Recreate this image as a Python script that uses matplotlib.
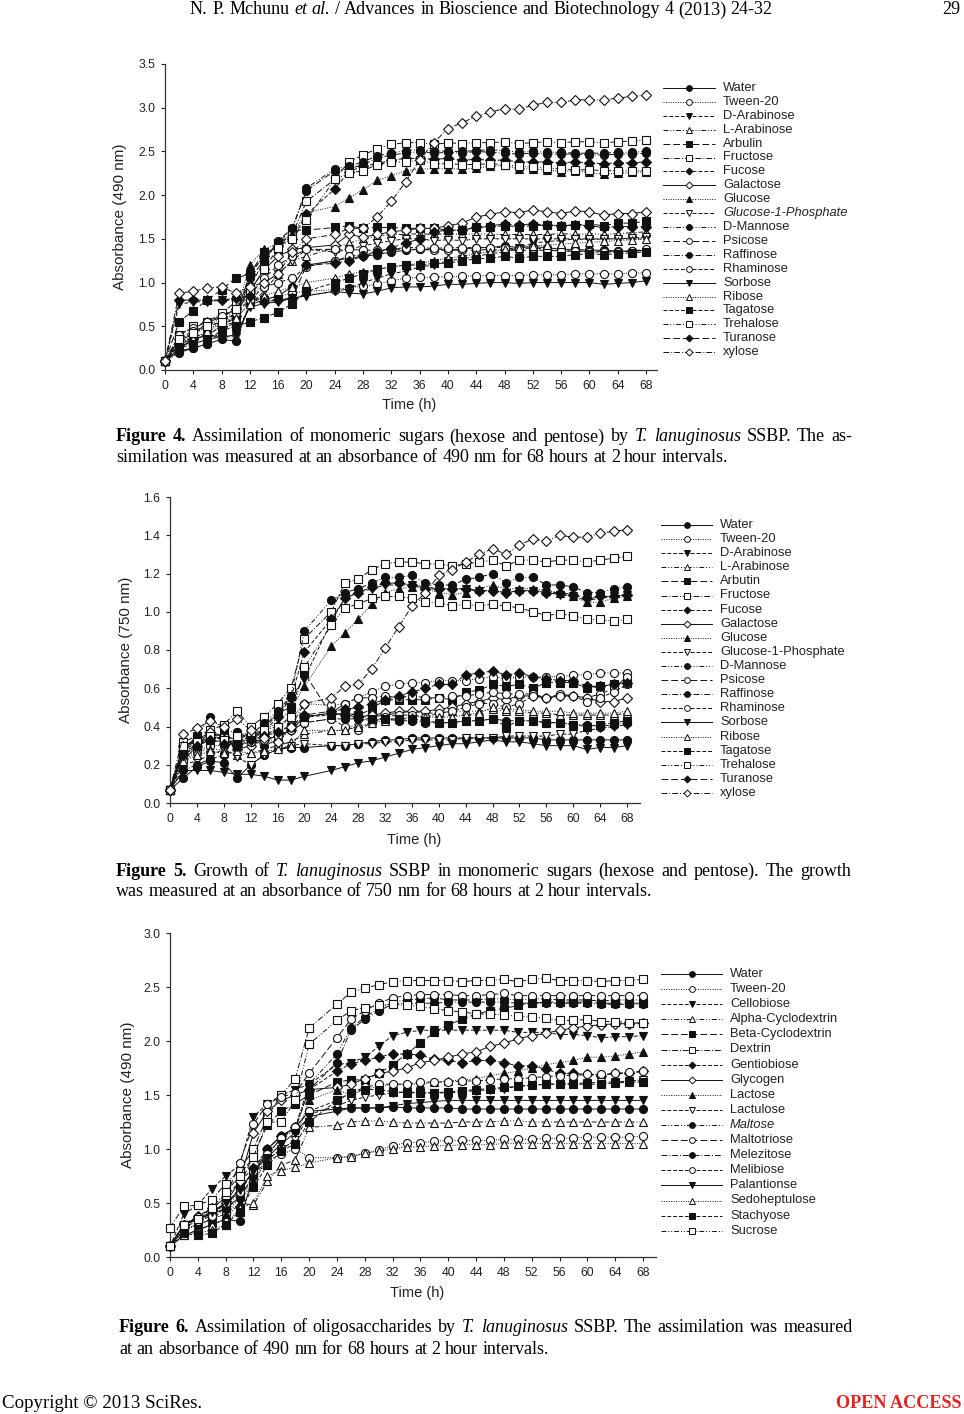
import numpy as np
import matplotlib.pyplot as plt
from matplotlib.lines import Line2D
from matplotlib.ticker import FormatStrFormatter

W, H = 964, 1414
SERIF = 'Liberation Serif'
plt.rcParams['font.family'] = ['Liberation Sans', 'DejaVu Sans']

# sampling times (h); no reading at 22 h
hours = [0, 2, 4, 6, 8, 10, 12, 14, 16, 18, 20,
         24, 26, 28, 30, 32, 34, 36, 38, 40, 42, 44, 46, 48, 50, 52, 54, 56, 58, 60, 62, 64, 66, 68]

# Figure 4 - monomeric sugars, absorbance 490 nm
fig4_labels = ['Water', 'Tween-20', 'D-Arabinose', 'L-Arabinose', 'Arbulin', 'Fructose', 'Fucose',
               'Galactose', 'Glucose', 'Glucose-1-Phosphate', 'D-Mannose', 'Psicose', 'Raffinose',
               'Rhaminose', 'Sorbose', 'Ribose', 'Tagatose', 'Trehalose', 'Turanose', 'xylose']
fig4_abs = [
    [0.10, 0.22, 0.25, 0.30, 0.35, 0.33, 0.75, 0.80, 0.85, 0.95, 1.20,
     1.25, 1.28, 1.30, 1.32, 1.35, 1.37, 1.38, 1.38, 1.38, 1.38, 1.40, 1.40, 1.42, 1.40, 1.41, 1.40, 1.38, 1.38, 1.37, 1.37, 1.36, 1.36, 1.37],
    [0.10, 0.30, 0.40, 0.50, 0.60, 0.70, 0.80, 0.82, 0.84, 0.88, 0.90,
     0.92, 0.94, 0.96, 0.98, 1.02, 1.05, 1.06, 1.06, 1.07, 1.07, 1.08, 1.08, 1.08, 1.08, 1.09, 1.09, 1.09, 1.10, 1.10, 1.10, 1.10, 1.11, 1.11],
    [0.10, 0.75, 0.78, 0.78, 0.80, 0.80, 0.80, 0.80, 0.80, 0.82, 0.85,
     0.90, 0.93, 1.00, 1.05, 1.10, 1.13, 1.18, 1.20, 1.25, 1.27, 1.30, 1.33, 1.35, 1.40, 1.45, 1.47, 1.48, 1.50, 1.49, 1.50, 1.50, 1.50, 1.50],
    [0.10, 0.30, 0.35, 0.40, 0.50, 0.55, 0.80, 1.00, 1.10, 1.25, 1.30,
     1.40, 1.45, 1.50, 1.53, 1.55, 1.55, 1.56, 1.55, 1.56, 1.55, 1.56, 1.55, 1.55, 1.55, 1.55, 1.55, 1.56, 1.55, 1.56, 1.55, 1.56, 1.57, 1.58],
    [0.10, 0.55, 0.68, 0.80, 0.92, 1.05, 1.10, 1.35, 1.38, 1.60, 1.60,
     1.63, 1.65, 1.62, 1.63, 1.63, 1.62, 1.62, 1.62, 1.60, 1.60, 1.63, 1.64, 1.65, 1.64, 1.65, 1.66, 1.65, 1.66, 1.67, 1.65, 1.68, 1.68, 1.70],
    [0.10, 0.40, 0.50, 0.55, 0.65, 0.78, 0.95, 1.25, 1.45, 1.55, 1.93,
     2.18, 2.38, 2.46, 2.53, 2.58, 2.60, 2.60, 2.58, 2.60, 2.59, 2.60, 2.60, 2.61, 2.59, 2.60, 2.61, 2.60, 2.61, 2.61, 2.60, 2.61, 2.62, 2.63],
    [0.10, 0.30, 0.35, 0.40, 0.50, 0.62, 1.10, 1.30, 1.42, 1.50, 1.78,
     2.07, 2.27, 2.33, 2.36, 2.40, 2.42, 2.42, 2.41, 2.42, 2.40, 2.41, 2.40, 2.40, 2.38, 2.38, 2.38, 2.37, 2.38, 2.37, 2.36, 2.37, 2.37, 2.38],
    [0.10, 0.35, 0.40, 0.55, 0.60, 0.70, 0.90, 1.15, 1.30, 1.38, 1.40,
     1.43, 1.55, 1.52, 1.55, 1.58, 1.60, 1.62, 1.62, 1.65, 1.68, 1.75, 1.78, 1.81, 1.80, 1.83, 1.81, 1.79, 1.82, 1.81, 1.77, 1.79, 1.79, 1.81],
    [0.10, 0.30, 0.38, 0.42, 0.55, 0.65, 1.20, 1.38, 1.45, 1.55, 1.80,
     1.87, 1.97, 2.06, 2.17, 2.22, 2.28, 2.30, 2.30, 2.30, 2.30, 2.31, 2.33, 2.34, 2.30, 2.30, 2.29, 2.27, 2.28, 2.26, 2.24, 2.25, 2.26, 2.27],
    [0.10, 0.30, 0.30, 0.35, 0.38, 0.38, 0.75, 0.90, 1.10, 1.25, 1.38,
     1.35, 1.38, 1.42, 1.45, 1.48, 1.50, 1.50, 1.48, 1.49, 1.48, 1.50, 1.50, 1.50, 1.50, 1.50, 1.50, 1.50, 1.50, 1.50, 1.50, 1.50, 1.51, 1.52],
    [0.10, 0.25, 0.35, 0.40, 0.50, 0.60, 1.10, 1.30, 1.45, 1.62, 2.08,
     2.30, 2.33, 2.38, 2.45, 2.48, 2.51, 2.52, 2.51, 2.50, 2.50, 2.51, 2.52, 2.51, 2.49, 2.50, 2.49, 2.49, 2.48, 2.48, 2.48, 2.49, 2.49, 2.50],
    [0.10, 0.40, 0.48, 0.55, 0.62, 0.70, 0.85, 1.05, 1.20, 1.30, 1.38,
     1.38, 1.38, 1.37, 1.37, 1.38, 1.38, 1.38, 1.37, 1.37, 1.37, 1.37, 1.38, 1.37, 1.37, 1.37, 1.37, 1.36, 1.36, 1.36, 1.36, 1.36, 1.36, 1.37],
    [0.10, 0.20, 0.25, 0.30, 0.45, 0.55, 1.05, 1.25, 1.48, 1.62, 2.05,
     2.28, 2.30, 2.35, 2.42, 2.46, 2.48, 2.50, 2.48, 2.49, 2.48, 2.50, 2.49, 2.48, 2.47, 2.48, 2.47, 2.47, 2.47, 2.46, 2.46, 2.47, 2.47, 2.48],
    [0.10, 0.35, 0.45, 0.50, 0.55, 0.65, 0.80, 0.95, 1.00, 1.05, 1.18,
     1.25, 1.30, 1.32, 1.35, 1.38, 1.40, 1.40, 1.39, 1.40, 1.40, 1.40, 1.40, 1.40, 1.38, 1.40, 1.38, 1.36, 1.36, 1.35, 1.35, 1.35, 1.36, 1.38],
    [0.10, 0.25, 0.35, 0.40, 0.38, 0.40, 0.72, 0.76, 0.78, 0.82, 0.85,
     0.90, 0.88, 0.87, 0.90, 0.94, 0.95, 0.95, 0.96, 0.98, 0.98, 0.99, 1.00, 1.00, 0.99, 1.00, 1.00, 1.00, 1.00, 1.00, 0.98, 0.99, 1.00, 1.02],
    [0.10, 0.30, 0.35, 0.45, 0.55, 0.60, 0.75, 0.85, 0.90, 0.95, 1.00,
     1.05, 1.10, 1.12, 1.15, 1.18, 1.20, 1.22, 1.25, 1.28, 1.30, 1.33, 1.35, 1.38, 1.40, 1.42, 1.43, 1.44, 1.45, 1.46, 1.47, 1.48, 1.49, 1.50],
    [0.10, 0.25, 0.30, 0.35, 0.45, 0.50, 0.55, 0.60, 0.66, 0.76, 0.90,
     1.00, 1.05, 1.10, 1.15, 1.18, 1.20, 1.20, 1.22, 1.22, 1.25, 1.27, 1.28, 1.30, 1.28, 1.30, 1.30, 1.30, 1.32, 1.33, 1.32, 1.33, 1.34, 1.35],
    [0.10, 0.35, 0.42, 0.50, 0.55, 0.70, 0.90, 1.15, 1.40, 1.50, 1.72,
     2.18, 2.25, 2.28, 2.35, 2.38, 2.38, 2.40, 2.36, 2.36, 2.35, 2.35, 2.36, 2.35, 2.33, 2.32, 2.31, 2.30, 2.29, 2.29, 2.28, 2.28, 2.28, 2.28],
    [0.10, 0.80, 0.80, 0.80, 0.80, 0.82, 0.85, 0.78, 0.80, 0.82, 1.20,
     1.22, 1.25, 1.30, 1.35, 1.40, 1.45, 1.50, 1.58, 1.60, 1.60, 1.63, 1.65, 1.67, 1.66, 1.67, 1.66, 1.65, 1.66, 1.65, 1.63, 1.64, 1.64, 1.64],
    [0.10, 0.88, 0.90, 0.94, 0.95, 0.88, 0.95, 1.00, 1.10, 1.35, 1.50,
     1.55, 1.62, 1.62, 1.75, 1.93, 2.15, 2.40, 2.60, 2.76, 2.83, 2.90, 2.95, 2.99, 2.98, 3.03, 3.06, 3.06, 3.09, 3.09, 3.09, 3.11, 3.13, 3.14],
]

# Figure 5 - growth, absorbance 750 nm
fig5_labels = ['Water', 'Tween-20', 'D-Arabinose', 'L-Arabinose', 'Arbutin', 'Fructose', 'Fucose',
               'Galactose', 'Glucose', 'Glucose-1-Phosphate', 'D-Mannose', 'Psicose', 'Raffinose',
               'Rhaminose', 'Sorbose', 'Ribose', 'Tagatose', 'Trehalose', 'Turanose', 'xylose']
fig5_abs = [
    [0.07, 0.13, 0.19, 0.22, 0.21, 0.13, 0.20, 0.25, 0.28, 0.29, 0.29,
     0.30, 0.30, 0.31, 0.32, 0.33, 0.33, 0.34, 0.34, 0.34, 0.34, 0.34, 0.34, 0.34, 0.34, 0.34, 0.34, 0.33, 0.33, 0.33, 0.33, 0.33, 0.33, 0.33],
    [0.07, 0.22, 0.27, 0.30, 0.30, 0.32, 0.33, 0.34, 0.40, 0.44, 0.52,
     0.51, 0.52, 0.55, 0.58, 0.61, 0.62, 0.63, 0.63, 0.64, 0.64, 0.64, 0.65, 0.66, 0.65, 0.66, 0.66, 0.66, 0.66, 0.67, 0.67, 0.68, 0.68, 0.68],
    [0.07, 0.25, 0.30, 0.33, 0.35, 0.33, 0.36, 0.38, 0.47, 0.55, 0.65,
     0.95, 1.07, 1.10, 1.12, 1.14, 1.14, 1.14, 1.13, 1.12, 1.12, 1.12, 1.11, 1.11, 1.10, 1.11, 1.11, 1.10, 1.09, 1.08, 1.06, 1.07, 1.08, 1.09],
    [0.07, 0.25, 0.27, 0.28, 0.28, 0.25, 0.26, 0.28, 0.30, 0.32, 0.36,
     0.38, 0.38, 0.42, 0.45, 0.46, 0.47, 0.48, 0.47, 0.47, 0.48, 0.48, 0.48, 0.49, 0.48, 0.48, 0.47, 0.47, 0.46, 0.46, 0.46, 0.46, 0.46, 0.47],
    [0.07, 0.28, 0.33, 0.36, 0.35, 0.33, 0.37, 0.40, 0.47, 0.50, 0.68,
     0.46, 0.47, 0.46, 0.49, 0.54, 0.54, 0.54, 0.54, 0.55, 0.54, 0.58, 0.59, 0.62, 0.61, 0.62, 0.60, 0.63, 0.63, 0.63, 0.60, 0.61, 0.62, 0.63],
    [0.07, 0.32, 0.35, 0.38, 0.41, 0.48, 0.40, 0.45, 0.52, 0.60, 0.86,
     1.00, 1.15, 1.17, 1.22, 1.25, 1.26, 1.26, 1.25, 1.25, 1.24, 1.25, 1.26, 1.27, 1.24, 1.27, 1.27, 1.26, 1.27, 1.27, 1.26, 1.27, 1.28, 1.29],
    [0.07, 0.27, 0.32, 0.36, 0.34, 0.31, 0.35, 0.37, 0.45, 0.55, 0.79,
     0.96, 1.07, 1.10, 1.13, 1.15, 1.15, 1.14, 1.12, 1.12, 1.12, 1.12, 1.11, 1.11, 1.10, 1.11, 1.11, 1.10, 1.10, 1.09, 1.07, 1.08, 1.08, 1.09],
    [0.07, 0.30, 0.33, 0.37, 0.35, 0.28, 0.30, 0.33, 0.35, 0.38, 0.45,
     0.47, 0.46, 0.45, 0.46, 0.47, 0.48, 0.48, 0.48, 0.49, 0.50, 0.52, 0.53, 0.55, 0.54, 0.56, 0.56, 0.55, 0.56, 0.56, 0.55, 0.53, 0.53, 0.55],
    [0.07, 0.25, 0.30, 0.34, 0.34, 0.30, 0.35, 0.38, 0.42, 0.49, 0.61,
     0.82, 0.89, 0.96, 1.04, 1.10, 1.12, 1.13, 1.12, 1.10, 1.09, 1.10, 1.12, 1.14, 1.12, 1.12, 1.12, 1.11, 1.10, 1.08, 1.05, 1.05, 1.07, 1.08],
    [0.07, 0.20, 0.22, 0.25, 0.28, 0.24, 0.20, 0.25, 0.28, 0.30, 0.31,
     0.30, 0.30, 0.31, 0.31, 0.32, 0.32, 0.33, 0.33, 0.33, 0.33, 0.34, 0.34, 0.34, 0.35, 0.35, 0.35, 0.35, 0.36, 0.36, 0.38, 0.39, 0.40, 0.41],
    [0.07, 0.28, 0.35, 0.45, 0.38, 0.37, 0.35, 0.42, 0.48, 0.56, 0.90,
     1.06, 1.10, 1.12, 1.15, 1.18, 1.18, 1.19, 1.15, 1.14, 1.14, 1.17, 1.18, 1.20, 1.15, 1.18, 1.18, 1.14, 1.14, 1.13, 1.10, 1.10, 1.12, 1.13],
    [0.07, 0.22, 0.30, 0.35, 0.33, 0.30, 0.32, 0.33, 0.35, 0.38, 0.45,
     0.47, 0.52, 0.55, 0.55, 0.56, 0.55, 0.56, 0.55, 0.55, 0.56, 0.56, 0.57, 0.58, 0.57, 0.57, 0.57, 0.55, 0.57, 0.56, 0.55, 0.57, 0.60, 0.66],
    [0.07, 0.17, 0.20, 0.23, 0.25, 0.37, 0.33, 0.30, 0.33, 0.38, 0.42,
     0.44, 0.44, 0.44, 0.43, 0.44, 0.43, 0.43, 0.42, 0.42, 0.42, 0.43, 0.43, 0.44, 0.43, 0.43, 0.43, 0.42, 0.42, 0.41, 0.41, 0.40, 0.41, 0.42],
    [0.07, 0.30, 0.32, 0.35, 0.33, 0.30, 0.32, 0.33, 0.35, 0.38, 0.42,
     0.44, 0.40, 0.38, 0.42, 0.45, 0.46, 0.46, 0.45, 0.47, 0.48, 0.50, 0.52, 0.52, 0.50, 0.52, 0.56, 0.55, 0.56, 0.56, 0.53, 0.55, 0.58, 0.62],
    [0.07, 0.17, 0.17, 0.17, 0.16, 0.15, 0.15, 0.14, 0.12, 0.12, 0.14,
     0.17, 0.19, 0.21, 0.22, 0.24, 0.26, 0.28, 0.29, 0.30, 0.31, 0.31, 0.32, 0.33, 0.32, 0.32, 0.31, 0.30, 0.30, 0.30, 0.28, 0.29, 0.29, 0.30],
    [0.07, 0.22, 0.25, 0.27, 0.26, 0.27, 0.26, 0.27, 0.28, 0.30, 0.38,
     0.38, 0.38, 0.40, 0.42, 0.43, 0.44, 0.45, 0.45, 0.45, 0.45, 0.46, 0.47, 0.50, 0.49, 0.49, 0.48, 0.48, 0.48, 0.47, 0.47, 0.47, 0.47, 0.48],
    [0.07, 0.27, 0.30, 0.33, 0.32, 0.32, 0.35, 0.36, 0.38, 0.40, 0.45,
     0.46, 0.47, 0.46, 0.44, 0.44, 0.44, 0.44, 0.43, 0.42, 0.42, 0.43, 0.43, 0.44, 0.40, 0.43, 0.43, 0.42, 0.42, 0.41, 0.40, 0.41, 0.42, 0.43],
    [0.07, 0.30, 0.32, 0.35, 0.33, 0.35, 0.37, 0.38, 0.40, 0.45, 0.71,
     0.93, 1.02, 1.04, 1.07, 1.08, 1.08, 1.07, 1.05, 1.05, 1.03, 1.04, 1.03, 1.04, 1.03, 1.02, 1.00, 0.98, 0.99, 0.98, 0.96, 0.96, 0.95, 0.96],
    [0.07, 0.25, 0.30, 0.33, 0.31, 0.30, 0.33, 0.35, 0.37, 0.40, 0.46,
     0.48, 0.49, 0.50, 0.52, 0.54, 0.56, 0.58, 0.60, 0.62, 0.62, 0.67, 0.68, 0.69, 0.67, 0.68, 0.66, 0.65, 0.64, 0.64, 0.61, 0.61, 0.62, 0.63],
    [0.07, 0.36, 0.39, 0.43, 0.40, 0.44, 0.38, 0.34, 0.32, 0.40, 0.52,
     0.55, 0.61, 0.62, 0.70, 0.81, 0.92, 1.03, 1.10, 1.19, 1.22, 1.26, 1.30, 1.33, 1.30, 1.35, 1.38, 1.37, 1.40, 1.39, 1.39, 1.41, 1.42, 1.43],
]

# Figure 6 - oligosaccharides, absorbance 490 nm
fig6_labels = ['Water', 'Tween-20', 'Cellobiose', 'Alpha-Cyclodextrin', 'Beta-Cyclodextrin', 'Dextrin',
               'Gentiobiose', 'Glycogen', 'Lactose', 'Lactulose', 'Maltose', 'Maltotriose', 'Melezitose',
               'Melibiose', 'Palantionse', 'Sedoheptulose', 'Stachyose', 'Sucrose']
fig6_abs = [
    [0.10, 0.20, 0.25, 0.30, 0.35, 0.33, 0.75, 1.00, 1.12, 1.20, 1.35,
     1.37, 1.38, 1.38, 1.38, 1.39, 1.38, 1.38, 1.38, 1.38, 1.37, 1.37, 1.37, 1.37, 1.37, 1.37, 1.37, 1.37, 1.37, 1.37, 1.37, 1.37, 1.37, 1.37],
    [0.10, 0.25, 0.30, 0.35, 0.40, 0.55, 0.70, 0.90, 0.95, 1.00, 0.92,
     0.92, 0.93, 0.96, 0.99, 1.03, 1.06, 1.06, 1.07, 1.08, 1.08, 1.08, 1.08, 1.09, 1.09, 1.09, 1.10, 1.10, 1.10, 1.11, 1.11, 1.11, 1.11, 1.12],
    [0.10, 0.40, 0.48, 0.63, 0.75, 0.85, 1.30, 1.42, 1.50, 1.55, 1.60,
     1.78, 1.80, 1.85, 1.95, 2.05, 2.08, 2.10, 2.10, 2.10, 2.10, 2.10, 2.10, 2.10, 2.08, 2.08, 2.08, 2.06, 2.06, 2.05, 2.03, 2.04, 2.04, 2.05],
    [0.10, 0.20, 0.25, 0.30, 0.35, 0.50, 0.48, 0.70, 0.85, 0.90, 1.20,
     1.22, 1.25, 1.26, 1.26, 1.25, 1.24, 1.24, 1.24, 1.24, 1.25, 1.25, 1.25, 1.26, 1.26, 1.25, 1.25, 1.25, 1.25, 1.25, 1.25, 1.25, 1.25, 1.25],
    [0.10, 0.30, 0.35, 0.40, 0.45, 0.65, 0.95, 1.22, 1.35, 1.42, 1.50,
     1.62, 1.64, 1.64, 1.70, 1.78, 1.88, 1.98, 2.08, 2.15, 2.20, 2.25, 2.28, 2.30, 2.33, 2.35, 2.36, 2.36, 2.36, 2.36, 2.35, 2.35, 2.35, 2.35],
    [0.27, 0.47, 0.48, 0.53, 0.68, 0.80, 1.00, 1.30, 1.50, 1.65, 2.12,
     2.34, 2.45, 2.49, 2.52, 2.55, 2.56, 2.56, 2.56, 2.56, 2.55, 2.56, 2.56, 2.57, 2.55, 2.57, 2.58, 2.56, 2.56, 2.56, 2.55, 2.56, 2.56, 2.57],
    [0.10, 0.30, 0.38, 0.45, 0.55, 0.70, 0.82, 1.00, 1.12, 1.20, 1.55,
     1.72, 1.79, 1.82, 1.85, 1.88, 1.88, 1.87, 1.83, 1.82, 1.80, 1.82, 1.82, 1.80, 1.77, 1.77, 1.74, 1.70, 1.70, 1.69, 1.68, 1.70, 1.70, 1.72],
    [0.10, 0.30, 0.35, 0.40, 0.50, 0.70, 1.15, 1.35, 1.45, 1.50, 1.55,
     1.57, 1.60, 1.65, 1.70, 1.72, 1.75, 1.80, 1.82, 1.85, 1.88, 1.90, 1.95, 1.98, 2.02, 2.05, 2.07, 2.10, 2.12, 2.14, 2.15, 2.16, 2.16, 2.17],
    [0.10, 0.25, 0.30, 0.35, 0.40, 0.50, 0.70, 0.90, 1.00, 1.08, 1.45,
     1.55, 1.50, 1.55, 1.58, 1.60, 1.60, 1.60, 1.62, 1.63, 1.64, 1.65, 1.68, 1.70, 1.72, 1.75, 1.78, 1.80, 1.82, 1.85, 1.85, 1.86, 1.88, 1.90],
    [0.10, 0.30, 0.35, 0.40, 0.45, 0.55, 0.75, 0.90, 1.00, 1.08, 1.32,
     1.40, 1.45, 1.48, 1.50, 1.52, 1.53, 1.52, 1.52, 1.52, 1.53, 1.54, 1.55, 1.56, 1.58, 1.59, 1.60, 1.60, 1.61, 1.61, 1.62, 1.62, 1.63, 1.64],
    [0.10, 0.30, 0.35, 0.38, 0.45, 0.60, 0.80, 1.00, 1.12, 1.20, 1.60,
     1.88, 2.12, 2.22, 2.30, 2.36, 2.38, 2.39, 2.40, 2.38, 2.38, 2.38, 2.39, 2.39, 2.38, 2.39, 2.39, 2.38, 2.38, 2.38, 2.37, 2.38, 2.38, 2.38],
    [0.10, 0.30, 0.37, 0.45, 0.55, 0.87, 1.23, 1.42, 1.48, 1.52, 1.70,
     2.03, 2.20, 2.28, 2.35, 2.40, 2.42, 2.43, 2.43, 2.43, 2.42, 2.42, 2.43, 2.44, 2.42, 2.42, 2.42, 2.42, 2.42, 2.42, 2.42, 2.42, 2.42, 2.42],
    [0.10, 0.25, 0.30, 0.35, 0.45, 0.55, 0.75, 0.95, 1.10, 1.18, 1.55,
     1.80, 2.10, 2.20, 2.28, 2.34, 2.35, 2.35, 2.35, 2.36, 2.36, 2.36, 2.36, 2.36, 2.35, 2.35, 2.35, 2.35, 2.35, 2.35, 2.34, 2.34, 2.34, 2.34],
    [0.10, 0.28, 0.33, 0.38, 0.50, 0.60, 0.80, 0.95, 1.10, 1.20, 1.35,
     1.45, 1.52, 1.57, 1.60, 1.60, 1.60, 1.62, 1.62, 1.62, 1.63, 1.63, 1.64, 1.65, 1.65, 1.66, 1.67, 1.68, 1.68, 1.69, 1.69, 1.70, 1.71, 1.72],
    [0.10, 0.30, 0.35, 0.42, 0.50, 0.62, 0.80, 0.92, 1.05, 1.15, 1.30,
     1.35, 1.38, 1.38, 1.38, 1.40, 1.42, 1.43, 1.44, 1.45, 1.45, 1.45, 1.45, 1.45, 1.45, 1.45, 1.45, 1.45, 1.45, 1.45, 1.45, 1.45, 1.45, 1.45],
    [0.10, 0.20, 0.22, 0.25, 0.30, 0.45, 0.50, 0.75, 0.80, 0.83, 0.87,
     0.92, 0.93, 0.96, 0.98, 1.00, 1.02, 1.02, 1.03, 1.03, 1.04, 1.04, 1.04, 1.05, 1.05, 1.05, 1.05, 1.05, 1.05, 1.05, 1.05, 1.05, 1.05, 1.05],
    [0.10, 0.22, 0.20, 0.22, 0.30, 0.42, 0.65, 0.85, 0.98, 1.05, 1.25,
     1.45, 1.52, 1.55, 1.55, 1.53, 1.52, 1.52, 1.52, 1.53, 1.54, 1.55, 1.56, 1.57, 1.58, 1.59, 1.60, 1.60, 1.60, 1.60, 1.60, 1.61, 1.62, 1.62],
    [0.10, 0.30, 0.35, 0.45, 0.60, 0.75, 0.93, 1.25, 1.25, 1.45, 1.97,
     2.19, 2.28, 2.31, 2.33, 2.34, 2.33, 2.32, 2.30, 2.28, 2.27, 2.25, 2.25, 2.24, 2.23, 2.22, 2.21, 2.19, 2.19, 2.20, 2.18, 2.18, 2.17, 2.17],
]

# symbol / line pattern, same order in every legend
markers = ['o', 'o', 'v', '^', 's', 's', 'D', 'D', '^', 'v', 'o', 'o', 'o', 'o', 'v', '^', 's', 's', 'D', 'D']
filled = [1, 0, 1, 0, 1, 0, 1, 0, 1, 0, 1, 0, 1, 0, 1, 0, 1, 0, 1, 0]
line_kind = ['solid', 'dot', 'dash', 'dddot', 'long', 'dashdot', 'dash', 'solid', 'dot', 'dash',
             'dddot', 'long', 'dashdot', 'dash', 'solid', 'dot', 'dash', 'dddot', 'long', 'dashdot']
DASH = {'solid': '-', 'dot': (0, (1, 1.5)), 'dash': (0, (4, 2)), 'dddot': (0, (5, 2, 1, 2, 1, 2)),
        'long': (0, (7, 3)), 'dashdot': (0, (6, 2, 1, 2))}
MSIZE = {'o': 5.8, 's': 5.5, 'D': 4.9, '^': 6.0, 'v': 6.0}
INK = '#111111'

fig = plt.figure(figsize=(W / 100, H / 100), dpi=100)


def panel(values, labels, left, x68, right, top, bottom, ymax, ystep, ylabel,
          ylab_x, xlab_x, xlab_y, leg_x, leg_y0, leg_dy, leg_len, leg_tx, italic=None):
    ax = fig.add_axes([left / W, 1 - bottom / H, (right - left) / W, (bottom - top) / H])
    for i, vals in enumerate(values):
        m = markers[i]
        ax.plot(hours, vals, ls=DASH[line_kind[i]], lw=0.7, color=INK, marker=m, ms=MSIZE[m],
                mfc=INK if filled[i] else 'white', mec=INK, mew=0.8, clip_on=False, zorder=3)
    ax.set_xlim(0, 68 * (right - left) / (x68 - left))
    ax.set_ylim(0, ymax)
    ax.set_xticks(range(0, 69, 4))
    ax.set_yticks(np.arange(0, ymax + 1e-9, ystep))
    ax.yaxis.set_major_formatter(FormatStrFormatter('%.1f'))
    for s in ['top', 'right']:
        ax.spines[s].set_visible(False)
    for s in ['left', 'bottom']:
        ax.spines[s].set_linewidth(0.9)
        ax.spines[s].set_color('#333333')
    ax.tick_params(direction='out', length=3, width=0.8, labelsize=8.8, pad=4, colors='#222222')
    fig.text(ylab_x / W, 1 - (top + bottom) / 2 / H, ylabel, rotation=90, ha='center', va='center',
             fontsize=11, color='#222222')
    fig.text(xlab_x / W, 1 - xlab_y / H, 'Time (h)', ha='center', va='center', fontsize=10.5, color='#222222')
    # legend drawn beside the plot
    for i, name in enumerate(labels):
        y = 1 - (leg_y0 + i * leg_dy) / H
        xs = [leg_x / W, (leg_x + leg_len / 2) / W, (leg_x + leg_len) / W]
        m = markers[i]
        fig.add_artist(Line2D(xs, [y, y, y], transform=fig.transFigure, ls=DASH[line_kind[i]], lw=0.7,
                              color=INK, marker=m, markevery=[1], ms=MSIZE[m] * 0.72,
                              mfc=INK if filled[i] else 'white', mec=INK, mew=0.7))
        fig.text(leg_tx / W, y, name, va='center', ha='left', fontsize=9.3, color='#222222',
                 style='italic' if name == italic else 'normal')
    return ax


panel(fig4_abs, fig4_labels, 165, 646, 657, 64, 370, 3.5, 0.5, 'Absorbance (490 nm)',
      120, 409, 405, 663, 88, 13.9, 52, 723, italic='Glucose-1-Phosphate')
panel(fig5_abs, fig5_labels, 170, 627, 640, 497, 803, 1.6, 0.2, 'Absorbance (750 nm)',
      126, 414, 840, 661, 525, 14.1, 51, 720)
panel(fig6_abs, fig6_labels, 170, 643, 656, 933, 1257, 3.0, 0.5, 'Absorbance (490 nm)',
      128, 417, 1293, 661, 974, 15.1, 61, 730, italic='Maltose')

renderer = fig.canvas.get_renderer()
ITALIC_WORDS = {'T.', 'lanuginosus', 'et', 'al.'}


def measure(text, size, weight='normal'):
    t = fig.text(0, 0, text, fontsize=size, family=SERIF, fontweight=weight)
    w = t.get_window_extent(renderer).width
    t.remove()
    return w


def put_line(text, x0, y, size, x1=None, bold_words=0, color='black'):
    words = text.split()
    objs = []
    for k, w in enumerate(words):
        objs.append(fig.text(0, 1 - y / H, w, fontsize=size, family=SERIF, color=color,
                             fontweight='bold' if k < bold_words else 'normal',
                             fontstyle='italic' if w in ITALIC_WORDS else 'normal', va='center'))
    widths = [o.get_window_extent(renderer).width for o in objs]
    gap = size * 0.25 * 100 / 72
    if x1 is not None and len(objs) > 1:
        gap = (x1 - x0 - sum(widths)) / (len(objs) - 1)
    x = x0
    for o, w in zip(objs, widths):
        o.set_x(x / W)
        x += w + gap


# captions, font size fitted to the unjustified second line of Figure 5
cap5 = 'was measured at an absorbance of 750 nm for 68 hours at 2 hour intervals.'
cap_size = 11 * 538 / measure(cap5, 11)

put_line('Figure 4. Assimilation of monomeric sugars (hexose and pentose) by T. lanuginosus SSBP. The as-',
         116, 437, cap_size, x1=852, bold_words=2)
put_line('similation was measured at an absorbance of 490 nm for 68 hours at 2 hour intervals.', 116, 458, cap_size)
put_line('Figure 5. Growth of T. lanuginosus SSBP in monomeric sugars (hexose and pentose). The growth',
         116, 871, cap_size, x1=851, bold_words=2)
put_line(cap5, 116, 892, cap_size)
put_line('Figure 6. Assimilation of oligosaccharides by T. lanuginosus SSBP. The assimilation was measured',
         119, 1328, cap_size, x1=853, bold_words=2)
put_line('at an absorbance of 490 nm for 68 hours at 2 hour intervals.', 119, 1349, cap_size)

# running head and footer
head = 'N. P. Mchunu et al. / Advances in Bioscience and Biotechnology 4 (2013) 24-32'
head_size = 11 * 582 / measure(head, 11)
put_line(head, 190, 10, head_size)
fig.text(960 / W, 1 - 10 / H, '29', ha='right', va='center', fontsize=head_size, family=SERIF)

foot = 'Copyright \u00a9 2013 SciRes.'
fig.text(2 / W, 1 - 1404 / H, foot, ha='left', va='center', family=SERIF,
         fontsize=11 * 200 / measure(foot, 11))
fig.text(962 / W, 1 - 1404 / H, 'OPEN ACCESS', ha='right', va='center', family=SERIF, fontweight='bold',
         color='#e3231f', fontsize=11 * 125 / measure('OPEN ACCESS', 11, 'bold'))

fig.savefig('out.png', dpi=100)
